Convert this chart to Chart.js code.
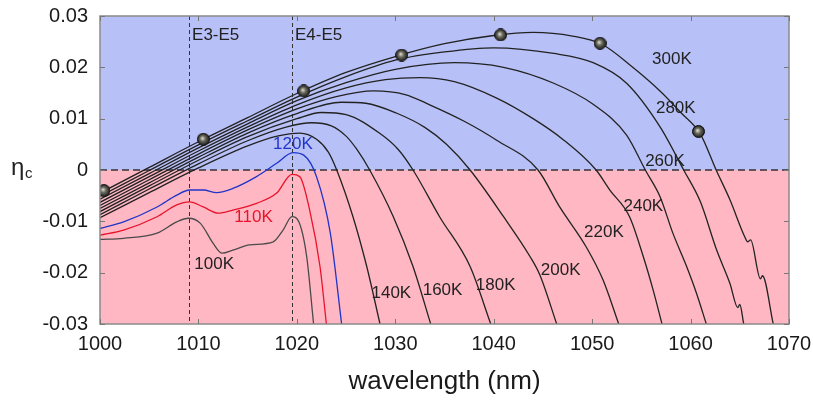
<!DOCTYPE html>
<html><head><meta charset="utf-8">
<script src="https://cdn.jsdelivr.net/npm/chart.js@4/dist/chart.umd.min.js"></script>
<style>html,body{margin:0;padding:0;background:#fff}#wrap{width:813px;height:402px}</style>
</head><body><div id="wrap"><canvas id="c" width="813" height="402"></canvas></div>
<script>
// ---------- data ----------
const xTicks = [1000, 1010, 1020, 1030, 1040, 1050, 1060, 1070];
const yTicks = [-0.03, -0.02, -0.01, 0, 0.01, 0.02, 0.03];
const temps = ['100K', '110K', '120K', '140K', '160K', '180K', '200K', '220K', '240K', '260K', '280K', '300K'];

const wl100 = [1000, 1002.4, 1005.8, 1007.8, 1009.0, 1010.2, 1011.5, 1012.4, 1013.5, 1015.2, 1017.6, 1018.6, 1019.5, 1020.2, 1021.0, 1021.7];
const eta100 = [-0.0135, -0.0133, -0.0123, -0.0101, -0.0094, -0.0104, -0.0143, -0.0162, -0.0156, -0.0146, -0.0140, -0.0117, -0.0091, -0.0101, -0.0169, -0.0300];

const wl110 = [1000, 1002.4, 1005.8, 1007.8, 1009.1, 1010.5, 1012.0, 1013.5, 1015.9, 1017.95, 1019.5, 1020.3, 1021.3, 1022.35, 1023.0];
const eta110 = [-0.0127, -0.0117, -0.0091, -0.0068, -0.0062, -0.0072, -0.0084, -0.0078, -0.0065, -0.0045, -0.00085, -0.0013, -0.0078, -0.0188, -0.0300];

const wl120 = [1000, 1002.4, 1005.8, 1007.8, 1009.1, 1010.5, 1011.85, 1013.5, 1015.9, 1017.95, 1019.6, 1020.7, 1022.0, 1023.4, 1024.55];
const eta120 = [-0.0114, -0.0101, -0.0072, -0.0049, -0.0039, -0.0039, -0.0044, -0.0036, -0.0013, 0.0013, 0.0034, 0.0029, -0.0013, -0.0123, -0.0300];

const wl140 = [1000, 1005, 1010, 1015, 1018, 1020.3, 1022, 1023.2, 1024.05, 1025.7, 1027.1, 1028.45];
const eta140 = [-0.0093, -0.0044, 0.0004, 0.0047, 0.0066, 0.0072, 0.0060, 0.0035, 0, -0.0091, -0.0188, -0.0300];

const wl160 = [1000, 1005, 1010, 1015, 1019, 1021.5, 1023.5, 1025, 1026.1, 1027.4, 1029.8, 1031.8, 1033.6];
const eta160 = [-0.0087, -0.0037, 0.0012, 0.0057, 0.0084, 0.0092, 0.0086, 0.0066, 0.0040, 0, -0.0091, -0.0188, -0.0300];

const wl180 = [1000, 1005, 1010, 1015, 1020, 1022.5, 1025, 1028.45, 1030.3, 1031.8, 1034.5, 1037.6, 1039.7];
const eta180 = [-0.0081, -0.0031, 0.0019, 0.0065, 0.0100, 0.0112, 0.0108, 0.0071, 0.0040, 0, -0.0091, -0.0188, -0.0300];

const wl200 = [1000, 1005, 1010, 1015, 1020, 1024.5, 1027, 1030.1, 1033, 1035.2, 1037.6, 1041.0, 1043.7, 1044.7, 1046.4];
const eta200 = [-0.0075, -0.0025, 0.0025, 0.0072, 0.0110, 0.0132, 0.0130, 0.0111, 0.0083, 0.0050, 0, -0.0091, -0.0169, -0.0205, -0.0300];

const wl220 = [1000, 1005, 1010, 1015, 1020, 1024, 1027.8, 1031, 1033.5, 1037, 1040.3, 1044.5, 1046.7, 1049.4, 1051.1, 1052.7];
const eta220 = [-0.0069, -0.0019, 0.0031, 0.0078, 0.0119, 0.0143, 0.0154, 0.0147, 0.0127, 0.0095, 0.0058, 0, -0.0072, -0.0150, -0.0214, -0.0300];

const wl240 = [1000, 1005, 1010, 1015, 1020, 1025, 1029, 1032.5, 1036, 1040.3, 1044, 1047, 1050.4, 1051.8, 1053.8, 1055.2, 1056.2, 1057.1];
const eta240 = [-0.0063, -0.0013, 0.0037, 0.0084, 0.0127, 0.0160, 0.0176, 0.0180, 0.0172, 0.0140, 0.0100, 0.0060, 0, -0.0039, -0.0091, -0.0169, -0.0234, -0.0300];

const wl260 = [1000, 1005, 1010, 1015, 1020, 1025, 1030, 1036, 1041, 1046.1, 1050.1, 1053.5, 1055.4, 1056.9, 1058.2, 1059.6, 1060.6, 1061.6];
const eta260 = [-0.0057, -0.0007, 0.0043, 0.0090, 0.0135, 0.0170, 0.0196, 0.0209, 0.0200, 0.0169, 0.0128, 0.0068, 0, -0.0052, -0.0123, -0.0188, -0.0240, -0.0300];

const wl280 = [1000, 1005, 1010, 1015, 1020, 1025, 1030, 1035, 1040, 1046.1, 1050.1, 1053.5, 1056.9, 1059.3, 1061, 1062.65, 1064, 1064.8, 1065.0, 1065.4];
const eta280 = [-0.0051, -0.0001, 0.0049, 0.0096, 0.0142, 0.0182, 0.0214, 0.0230, 0.0238, 0.0227, 0.0209, 0.0169, 0.0084, 0, -0.0062, -0.0156, -0.0221, -0.0268, -0.0262, -0.0300];

const wl300 = [1000, 1005, 1010, 1015, 1020, 1025, 1030, 1035, 1040, 1044, 1048, 1051, 1054, 1057, 1059, 1061, 1062.6, 1064, 1065.5, 1065.8, 1066.1, 1067.1, 1067.3, 1068.4];
const eta300 = [-0.0045, 0.0005, 0.0055, 0.0102, 0.0149, 0.0190, 0.0221, 0.0246, 0.0262, 0.0268, 0.0261, 0.0245, 0.0202, 0.0152, 0.0112, 0.0070, 0, -0.0058, -0.0130, -0.0140, -0.0136, -0.0212, -0.0206, -0.0300];

const markerWl = [1000.4, 1010.5, 1020.7, 1030.65, 1040.7, 1050.8, 1060.8];
const markerEta = [-0.0040, 0.0060, 0.0154, 0.0224, 0.0263, 0.0247, 0.0075];

const transitionWl = [1009.05, 1019.5];
const transitionNames = ['E3-E5', 'E4-E5'];

// ---------- build ----------
const seriesWl = [wl100, wl110, wl120, wl140, wl160, wl180, wl200, wl220, wl240, wl260, wl280, wl300];
const seriesEta = [eta100, eta110, eta120, eta140, eta160, eta180, eta200, eta220, eta240, eta260, eta280, eta300];
const curveColors = ['#4a4a4a', '#e8132b', '#1f35c8', '#222', '#222', '#222', '#222', '#222', '#222', '#222', '#222', '#222'];
const labelColors = ['#222', '#e8132b', '#1f35c8', '#222', '#222', '#222', '#222', '#222', '#222', '#222', '#222', '#222'];
// label anchor (in data units) for each temperature label
const labelAnchors = [
  [1011.6, -0.0184], [1015.6, -0.0092], [1019.6, 0.0050], [1029.6, -0.0240], [1034.8, -0.0234],
  [1040.2, -0.0224], [1046.8, -0.0196], [1051.2, -0.0121], [1055.2, -0.0071], [1057.4, 0.0016],
  [1058.5, 0.0120], [1058.1, 0.0216]
];

const datasets = seriesWl.map((wl, i) => ({
  label: temps[i],
  data: wl.map((x, j) => ({x: x, y: seriesEta[i][j]})),
  borderColor: curveColors[i],
  borderWidth: 1.3,
  pointRadius: 0,
  cubicInterpolationMode: 'monotone',
  fill: false,
  order: 2
}));

// sphere marker
const sph = document.createElement('canvas');
sph.width = 13; sph.height = 13;
(function(){
  const g = sph.getContext('2d');
  const gr = g.createRadialGradient(5.5, 5.5, 0.5, 6.5, 6.5, 6.5);
  gr.addColorStop(0, '#d8d8c8');
  gr.addColorStop(0.35, '#6e6e62');
  gr.addColorStop(1, '#141414');
  g.fillStyle = gr;
  g.beginPath(); g.arc(6.5, 6.5, 6, 0, Math.PI * 2); g.fill();
  g.strokeStyle = '#111'; g.lineWidth = 1; g.stroke();
})();

datasets.push({
  label: 'markers',
  data: markerWl.map((x, j) => ({x: x, y: markerEta[j]})),
  showLine: false,
  pointStyle: sph,
  pointRadius: 6,
  order: 0
});

const FONT = '"Liberation Sans", Arial, sans-serif';

const decor = {
  id: 'decor',
  beforeDatasetsDraw(chart) {
    const {ctx, chartArea: a, scales: {x, y}} = chart;
    const y0 = y.getPixelForValue(0);
    ctx.save();
    ctx.fillStyle = '#b8c1f7';
    ctx.fillRect(a.left, a.top, a.right - a.left, y0 - a.top);
    ctx.fillStyle = '#ffb7c3';
    ctx.fillRect(a.left, y0, a.right - a.left, a.bottom - y0);
    ctx.strokeStyle = '#333';
    ctx.lineWidth = 1;
    ctx.setLineDash([4, 3]);
    transitionWl.forEach(w => {
      const px = Math.round(x.getPixelForValue(w)) + 0.5;
      ctx.beginPath(); ctx.moveTo(px, a.top); ctx.lineTo(px, a.bottom); ctx.stroke();
    });
    ctx.setLineDash([7, 4]);
    ctx.lineWidth = 1.4;
    ctx.strokeStyle = '#333';
    ctx.beginPath(); ctx.moveTo(a.left, y0); ctx.lineTo(a.right, y0); ctx.stroke();
    ctx.restore();
  },
  afterDatasetsDraw(chart) {
    const {ctx, chartArea: a, scales: {x, y}} = chart;
    ctx.save();
    ctx.strokeStyle = '#8a8a8a';
    ctx.lineWidth = 1.5;
    ctx.setLineDash([]);
    ctx.strokeRect(a.left, a.top, a.right - a.left, a.bottom - a.top);
    ctx.lineWidth = 1;
    ctx.strokeStyle = '#777';
    xTicks.forEach(v => {
      const px = Math.round(x.getPixelForValue(v)) + 0.5;
      ctx.beginPath(); ctx.moveTo(px, a.bottom); ctx.lineTo(px, a.bottom - 5); ctx.stroke();
      ctx.beginPath(); ctx.moveTo(px, a.top); ctx.lineTo(px, a.top + 5); ctx.stroke();
    });
    yTicks.forEach(v => {
      const py = Math.round(y.getPixelForValue(v)) + 0.5;
      ctx.beginPath(); ctx.moveTo(a.left, py); ctx.lineTo(a.left + 5, py); ctx.stroke();
      ctx.beginPath(); ctx.moveTo(a.right, py); ctx.lineTo(a.right - 5, py); ctx.stroke();
    });
    ctx.font = '17px ' + FONT;
    ctx.textAlign = 'center';
    ctx.textBaseline = 'middle';
    temps.forEach((t, i) => {
      ctx.fillStyle = labelColors[i];
      ctx.fillText(t, x.getPixelForValue(labelAnchors[i][0]), y.getPixelForValue(labelAnchors[i][1]));
    });
    ctx.fillStyle = '#222';
    ctx.textAlign = 'left';
    transitionNames.forEach((n, i) => {
      ctx.fillText(n, x.getPixelForValue(transitionWl[i]) + 3, a.top + 19);
    });
    ctx.textAlign = 'left';
    ctx.textBaseline = 'alphabetic';
    ctx.font = '24px ' + FONT;
    ctx.fillText('\u03B7', 11, 175);
    ctx.font = '15px ' + FONT;
    ctx.fillText('c', 25, 178);
    ctx.restore();
  }
};

new Chart(document.getElementById('c'), {
  type: 'line',
  data: {datasets},
  options: {
    responsive: false,
    devicePixelRatio: 1,
    animation: false,
    events: [],
    layout: {padding: {top: 16, right: 24, left: 0, bottom: 0}},
    plugins: {legend: {display: false}, tooltip: {enabled: false}},
    scales: {
      x: {
        type: 'linear', min: 1000, max: 1070,
        afterBuildTicks: s => { s.ticks = xTicks.map(v => ({value: v})); },
        afterFit: s => { s.height = 78; s.paddingLeft = 0; s.paddingRight = 0; },
        grid: {display: false, drawTicks: false},
        border: {display: false},
        ticks: {font: {size: 20, family: FONT}, color: '#1a1a1a', padding: 8, maxRotation: 0, autoSkip: false,
                callback: v => String(v)},
        title: {display: true, text: 'wavelength (nm)', font: {size: 26, family: FONT}, color: '#1a1a1a', padding: {top: 0, bottom: 5}}
      },
      y: {
        type: 'linear', min: -0.03, max: 0.03,
        afterBuildTicks: s => { s.ticks = yTicks.map(v => ({value: v})); },
        afterFit: s => { s.width = 100; s.paddingTop = 0; s.paddingBottom = 0; },
        grid: {display: false, drawTicks: false},
        border: {display: false},
        ticks: {font: {size: 20, family: FONT}, color: '#1a1a1a', padding: 12, autoSkip: false,
                callback: v => { const r = Math.round(v * 100) / 100; return r === 0 ? '0' : r.toFixed(2); }}
      }
    }
  },
  plugins: [decor]
});
</script>
</body></html>
